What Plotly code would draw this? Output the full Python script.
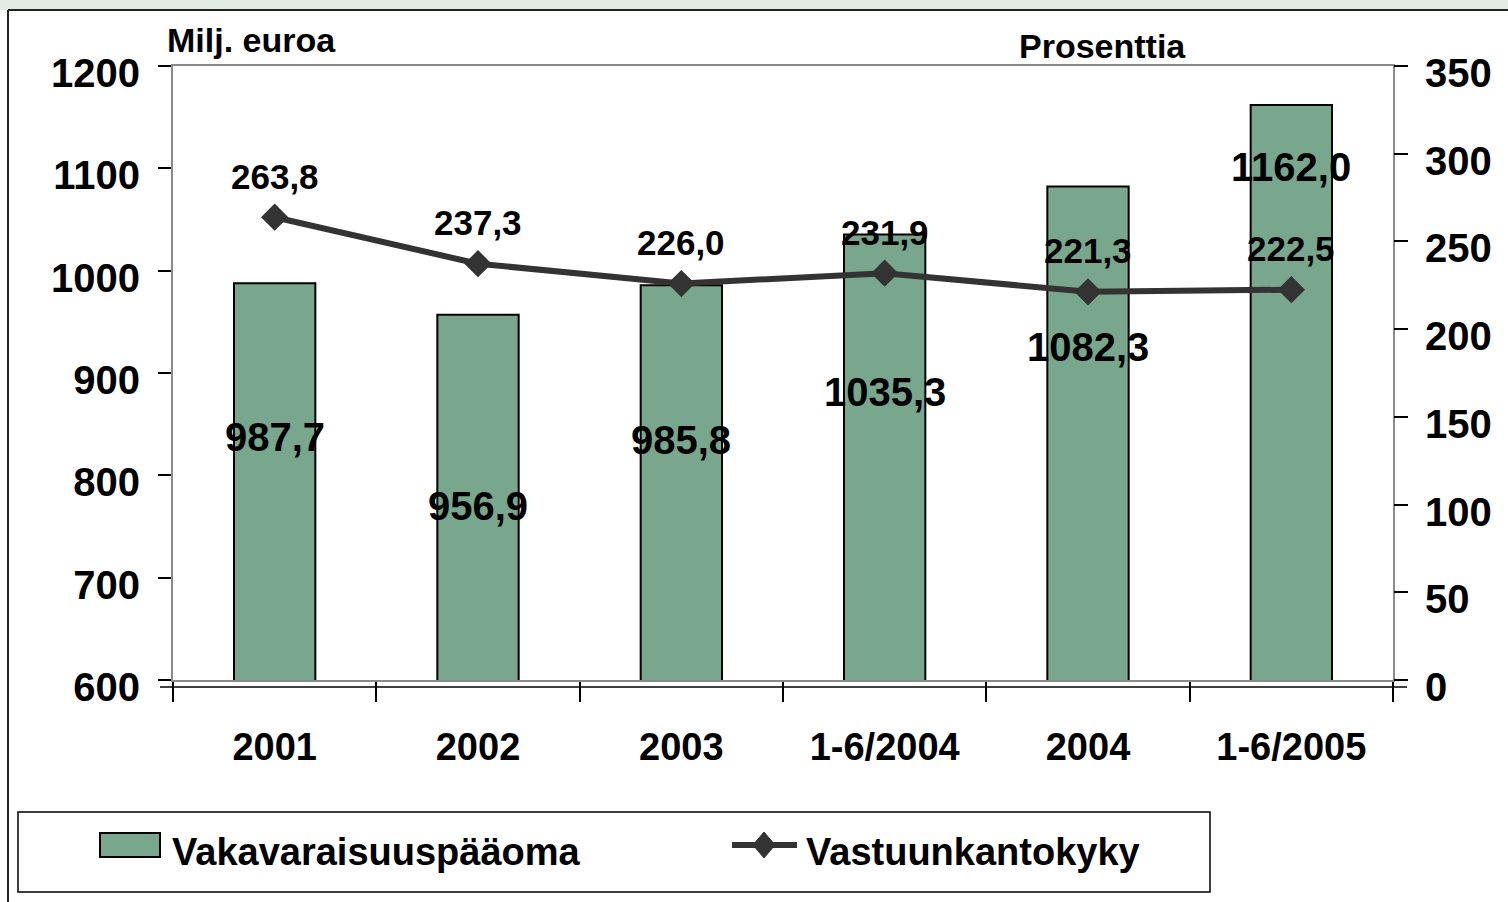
import plotly.graph_objects as go

# Chart data
categories = ["2001", "2002", "2003", "1-6/2004", "2004", "1-6/2005"]
capital = [987.7, 956.9, 985.8, 1035.3, 1082.3, 1162.0]      # Vakavaraisuuspääoma, Milj. euroa
solvency = [263.8, 237.3, 226.0, 231.9, 221.3, 222.5]        # Vastuunkantokyky, Prosenttia
capital_label_y = [837, 770, 835, 881, 925, 1101]            # where the bar labels sit (left axis units)
left_ticks = [600, 700, 800, 900, 1000, 1100, 1200]
right_ticks = [0, 50, 100, 150, 200, 250, 300, 350]

# Layout geometry (pixels)
W, H = 1508, 902
L, R, T, B = 173, 1393, 66, 680
FONT = "Liberation Sans, Arial, sans-serif"
BAR_COLOR = "#79a78d"
LINE_COLOR = "#333333"


def px_x(p):
    return (p - L) / (R - L)


def px_y(p):
    return (B - p) / (B - T)


def fmt(v):
    return f"{v:.1f}".replace(".", ",")


fig = go.Figure()

fig.add_trace(go.Bar(x=categories, y=capital, name="Vakavaraisuuspääoma",
                     marker=dict(color=BAR_COLOR, line=dict(color="black", width=2)),
                     width=0.4, yaxis="y"))
fig.add_trace(go.Scatter(x=categories, y=solvency, name="Vastuunkantokyky",
                         mode="lines+markers", yaxis="y2",
                         line=dict(color=LINE_COLOR, width=6),
                         marker=dict(symbol="diamond", size=21, color=LINE_COLOR)))

annotations = []
# Bar value labels (x given as category index: "2001" would be read as a number)
for i, (v, ly) in enumerate(zip(capital, capital_label_y)):
    annotations.append(dict(x=i, y=ly, xref="x", yref="y", text=fmt(v), showarrow=False,
                            font=dict(family=FONT, size=40, color="black", weight="bold")))
# Line value labels
for i, v in enumerate(solvency):
    annotations.append(dict(x=i, y=v, xref="x", yref="y2", text=fmt(v), showarrow=False,
                            yshift=41,
                            font=dict(family=FONT, size=35, color="black", weight="bold")))
# Axis titles
annotations.append(dict(x=px_x(165), y=px_y(40), xref="paper", yref="paper", text="Milj. euroa",
                        xanchor="left", yanchor="middle", showarrow=False,
                        font=dict(family=FONT, size=34, color="black", weight="bold")))
annotations.append(dict(x=px_x(1017), y=px_y(46), xref="paper", yref="paper", text="Prosenttia",
                        xanchor="left", yanchor="middle", showarrow=False,
                        font=dict(family=FONT, size=34, color="black", weight="bold")))
# Legend texts
annotations.append(dict(x=px_x(170), y=px_y(852), xref="paper", yref="paper",
                        text="Vakavaraisuuspääoma", xanchor="left", yanchor="middle", showarrow=False,
                        font=dict(family=FONT, size=38, color="black", weight="bold")))
annotations.append(dict(x=px_x(804), y=px_y(852), xref="paper", yref="paper",
                        text="Vastuunkantokyky", xanchor="left", yanchor="middle", showarrow=False,
                        font=dict(family=FONT, size=38, color="black", weight="bold")))

shapes = [
    # top band and outer border
    dict(type="rect", xref="paper", yref="paper", x0=px_x(0), x1=px_x(W), y0=px_y(0), y1=px_y(10),
         fillcolor="#e2ece5", line=dict(width=0), layer="below"),
    dict(type="line", xref="paper", yref="paper", x0=px_x(8), x1=px_x(W), y0=px_y(10), y1=px_y(10),
         line=dict(color="#222222", width=2)),
    dict(type="line", xref="paper", yref="paper", x0=px_x(8), x1=px_x(8), y0=px_y(10), y1=px_y(H),
         line=dict(color="#222222", width=2)),
    # black category axis line, a bit under the plot frame
    dict(type="line", xref="paper", yref="paper", x0=px_x(160), x1=px_x(1407), y0=px_y(687), y1=px_y(687),
         line=dict(color="black", width=1.5)),
    # legend box
    dict(type="rect", xref="paper", yref="paper", x0=px_x(18), x1=px_x(1210), y0=px_y(812), y1=px_y(892),
         line=dict(color="black", width=1.5), fillcolor="white"),
    dict(type="rect", xref="paper", yref="paper", x0=px_x(100), x1=px_x(160), y0=px_y(833), y1=px_y(857),
         line=dict(color="black", width=2), fillcolor=BAR_COLOR),
    dict(type="line", xref="paper", yref="paper", x0=px_x(732), x1=px_x(797), y0=px_y(845), y1=px_y(845),
         line=dict(color=LINE_COLOR, width=6)),
    dict(type="path", xref="paper", yref="paper",
         path=(f"M {px_x(753)} {px_y(845)} L {px_x(764)} {px_y(832)} "
               f"L {px_x(775)} {px_y(845)} L {px_x(764)} {px_y(858)} Z"),
         fillcolor=LINE_COLOR, line=dict(color=LINE_COLOR, width=1)),
]

fig.update_layout(
    width=W, height=H,
    margin=dict(l=L, r=W - R, t=T, b=H - B),
    paper_bgcolor="white", plot_bgcolor="white",
    font=dict(family=FONT, color="black", weight="bold"),
    showlegend=False,
    xaxis=dict(type="category", tickson="boundaries", ticks="outside", ticklen=20,
               tickcolor="black", tickwidth=1.5, showline=True, mirror=True,
               linecolor="#8a8a8a", linewidth=2, showgrid=False, ticklabelstandoff=32,
               tickangle=0,
               tickfont=dict(family=FONT, size=38, color="black", weight="bold")),
    yaxis=dict(range=[600, 1200], tickvals=left_ticks, ticks="outside", ticklen=13,
               tickcolor="black", tickwidth=1.5, showline=True, mirror=True,
               linecolor="#8a8a8a", linewidth=2, showgrid=False, zeroline=False,
               ticklabelshift=7, ticklabelstandoff=10,
               tickfont=dict(family=FONT, size=40, color="black", weight="bold")),
    yaxis2=dict(range=[0, 350], tickvals=right_ticks, overlaying="y", side="right",
                ticks="outside", ticklen=14, tickcolor="black", tickwidth=1.5,
                showline=False, showgrid=False, zeroline=False,
                ticklabelshift=7, ticklabelstandoff=9,
                tickfont=dict(family=FONT, size=40, color="black", weight="bold")),
    annotations=annotations,
    shapes=shapes,
)

# the page's default body margin would push the figure 8px right and down
fig.write_html("out.html", config={"displayModeBar": False},
               post_script="document.body.style.margin = '0';")
